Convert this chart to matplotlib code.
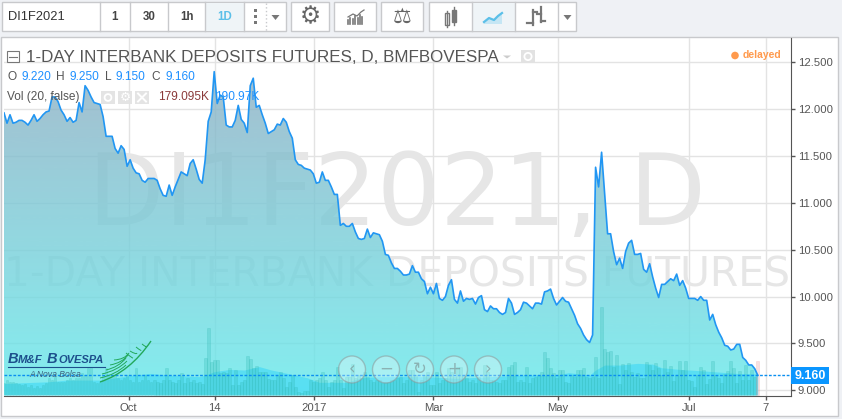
import numpy as np
import matplotlib
matplotlib.use("Agg")
import matplotlib.pyplot as plt
from matplotlib.patches import Rectangle, Circle, PathPatch
from matplotlib.path import Path

plt.rcParams["font.family"] = ["Liberation Sans", "DejaVu Sans"]

# daily closes
close = [
    11.96, 11.85, 11.94, 11.85, 11.86, 11.88, 11.88, 11.86, 11.83, 11.88,
    11.94, 11.87, 11.90, 11.94, 11.97, 11.98, 12.13, 12.13, 12.08, 11.99,
    11.94, 11.87, 11.91, 11.86, 11.88, 12.07, 11.97, 12.25, 12.20, 12.13,
    12.07, 12.06, 12.05, 11.92, 11.71, 11.71, 11.71, 11.58, 11.53, 11.61,
    11.57, 11.39, 11.46, 11.37, 11.32, 11.31, 11.24, 11.22, 11.26, 11.26,
    11.26, 11.24, 11.15, 11.08, 11.07, 11.19, 11.08, 11.17, 11.25, 11.33,
    11.31, 11.29, 11.42, 11.46, 11.36, 11.25, 11.21, 11.46, 11.87, 11.97,
    12.40, 12.06, 12.15, 12.13, 11.83, 11.81, 11.81, 11.88, 12.04, 11.89,
    11.85, 11.75, 12.25, 12.33, 12.02, 12.04, 11.94, 11.85, 11.74, 11.76,
    11.78, 11.84, 11.83, 11.90, 11.86, 11.76, 11.69, 11.46, 11.41, 11.40,
    11.37, 11.36, 11.35, 11.31, 11.21, 11.22, 11.33, 11.24, 11.24, 11.17,
    11.09, 11.09, 10.76, 10.78, 10.75, 10.75, 10.78, 10.69, 10.62, 10.61,
    10.62, 10.72, 10.63, 10.68, 10.67, 10.66, 10.59, 10.45, 10.44, 10.36,
    10.30, 10.30, 10.27, 10.23, 10.23, 10.24, 10.33, 10.26, 10.26, 10.19,
    10.16, 10.03, 10.10, 10.03, 10.14, 9.98, 9.96, 10.00, 10.12, 10.18,
    9.97, 9.93, 10.06, 9.95, 9.98, 9.97, 9.98, 9.92, 9.99, 10.01,
    9.86, 9.84, 9.90, 9.87, 9.87, 9.83, 9.81, 9.83, 9.98,
    9.93, 9.81, 9.83, 9.86, 9.94, 9.93, 9.90, 9.87, 9.93, 9.93,
    9.92, 10.05, 10.06, 10.08, 9.98, 9.91, 9.95, 9.99, 9.95, 9.94,
    9.87, 9.80, 9.71, 9.66, 9.59, 9.54, 9.51, 9.59, 11.38, 11.17,
    11.54, 11.10, 10.67, 10.67, 10.48, 10.34, 10.41, 10.30, 10.48, 10.57,
    10.60, 10.45, 10.45, 10.46, 10.29, 10.26, 10.35, 10.21, 10.09, 9.99,
    10.13, 10.13, 10.16, 10.19, 10.17, 10.24, 10.12, 10.17, 10.09, 9.98,
    9.98, 9.98, 9.96, 10.00, 9.96, 9.96, 9.75, 9.81, 9.70, 9.62,
    9.56, 9.48, 9.47, 9.43, 9.44, 9.49, 9.49, 9.35, 9.32, 9.27,
    9.27, 9.23, 9.16,
]

# daily volume in thousands
volume = [
    61, 79, 70, 67, 61, 56, 53, 56, 44, 53, 35, 49, 35, 53, 61, 88, 79, 97, 70, 70,
    70, 79, 88, 79, 88, 88, 114, 105, 141, 149, 70, 61, 70, 105, 141, 105, 105, 105, 88, 79,
    88, 105, 79, 70, 141, 70, 79, 105, 79, 70, 79, 70, 61, 79, 141, 79, 70, 61, 79, 118,
    61, 88, 70, 79, 61, 70,
    56, 193, 351, 172, 183, 183, 114, 123, 114, 141, 53, 132, 53, 70, 79, 207, 190, 141, 155, 123,
    119, 119, 84, 79, 79, 105, 123, 88, 44, 70, 105, 44, 18, 9, 21, 21, 79, 70, 79, 88,
    119, 79, 44, 70, 79, 149, 79, 35, 97, 97, 162, 88, 105, 88, 119, 97, 79, 70, 79, 79,
    61, 70, 70, 79,
    79, 88, 97, 61, 79, 132, 132, 105, 18, 79, 105, 123, 53, 53, 123, 61, 79, 88, 141, 123,
    97, 149, 149, 105, 88, 70, 79, 61, 97, 70, 158, 123, 79, 79, 70, 61, 79, 79, 149, 158,
    172, 70, 79, 70, 149, 61, 88, 97, 105, 123, 225, 193, 141, 114, 88, 132, 132, 70, 61, 105,
    97, 132, 132, 141, 97, 88, 97,
    199, 91, 462, 241, 228, 232, 149, 211, 58, 163, 132, 170, 123, 97, 114, 88, 88, 174, 158, 132, 167,
    141, 105, 184, 123, 153, 74, 105, 179, 132, 179, 79, 74, 40, 105, 146, 132, 58, 84, 179, 105,
    88, 61, 111, 127, 179, 141, 61, 127, 79, 156, 79, 132, 97, 179.095,
]

# 20 day volume average, read at a few bars
vol_ma_x = [0, 15, 21, 26, 32, 43, 49, 54, 65, 67, 70, 75, 80, 85, 89, 97, 101, 105, 108,
            114, 119, 125, 130, 140, 151, 162, 173, 184, 188, 195, 197, 200, 205, 211, 216, 219, 225, 233, 244, 251]
vol_ma = [61, 70, 79, 79, 79, 105, 114, 105, 97, 105, 123, 135, 132, 150, 132, 105, 91, 67, 67,
          67, 91, 97, 97, 97, 88, 97, 105, 105, 118, 105, 132, 158, 158, 167, 163, 144, 135, 127, 114, 111]

x_tick_pos = [41.46, 70.13, 103.3, 142.96, 184.5, 228.1, 253.6]
x_tick_labels = ["Oct", "14", "2017", "Mar", "May", "Jul", "7"]
y_ticks = [9.0, 9.5, 10.0, 10.5, 11.0, 11.5, 12.0, 12.5]

W, H = 842, 419
GREY = "#c8c9cc"


def px_axes(fig, left, top, right, bottom, z):
    a = fig.add_axes([left / W, 1 - bottom / H, (right - left) / W, (bottom - top) / H], zorder=z)
    return a


fig = plt.figure(figsize=(W / 100, H / 100), dpi=100, facecolor="#eff1f5")

# page level layer for panel and watermark
bg = fig.add_axes([0, 0, 1, 1], zorder=0)
bg.set_xlim(0, W)
bg.set_ylim(H, 0)
bg.axis("off")
bg.add_patch(Rectangle((1, 37.5), 837, 378, fc="white", ec=GREY, lw=1))

n = len(close)
step = 3.003
xlim = (-0.5 / step, (791 - 4) / step)
xs = np.arange(n)
vol_xs = np.arange(n - len(volume), n)

ax = px_axes(fig, 3.5, 38, 791, 396, 1)
ax.set_xlim(*xlim)
ax.set_ylim(8.939, 12.759)
ax.patch.set_alpha(0)
ax.grid(True, color="#e3e3e3", lw=1)
ax.set_axisbelow(True)
ax.yaxis.tick_right()
ax.set_yticks(y_ticks)
ax.set_yticklabels([f"{v:.3f}" for v in y_ticks])
ax.set_xticks(x_tick_pos)
ax.set_xticklabels(x_tick_labels)
ax.tick_params(axis="both", length=3, width=1, color="#555555", labelcolor="#555555", labelsize=8.1, pad=2)
ax.spines["top"].set_visible(False)
ax.spines["left"].set_visible(False)
ax.spines["right"].set_color("#555555")
ax.spines["bottom"].set_color("#555555")

# watermark sits under the area
ax.text(397, 197, "DI1F2021, D", transform=bg.transData, family="DejaVu Sans", fontsize=71.5, color="#e6e6e6",
        ha="center", va="center", zorder=1)
ax.text(397, 275, "1-DAY INTERBANK DEPOSITS FUTURES", transform=bg.transData, family="DejaVu Sans", fontsize=29.4,
        color="#e6e6e6", ha="center", va="center", zorder=1)

# gradient under the price line
grad = np.zeros((256, 1, 4))
grad[..., 0] = np.linspace(142, 100, 256)[:, None] / 255
grad[..., 1] = np.linspace(174, 234, 256)[:, None] / 255
grad[..., 2] = np.linspace(195, 236, 256)[:, None] / 255
grad[..., 3] = 0.8
im = ax.imshow(grad, extent=[xs[0], xs[-1], 8.95, 12.45], origin="upper", aspect="auto", zorder=2)
clip = PathPatch(Path(np.vstack([[xs[0], 8.95], np.column_stack([xs, close]), [xs[-1], 8.95]])),
                 transform=ax.transData, fc="none", ec="none")
ax.add_patch(clip)
im.set_clip_path(clip)
ax.set_xlim(*xlim)
ax.set_ylim(8.939, 12.759)

# volume and its average
ax_vol = px_axes(fig, 3.5, 38, 791, 396, 2)
ax_vol.set_xlim(*xlim)
ax_vol.set_ylim(-5, 1881)
ax_vol.axis("off")
ax_vol.fill_between(vol_ma_x, 0, vol_ma, color="#3fd8f6", alpha=0.62, lw=0)
bar_cols = ["#2cb6b0"] * (len(volume) - 1) + ["#e08a8a"]
ax_vol.bar(vol_xs, volume, width=0.9, color=bar_cols, edgecolor=bar_cols, lw=0.5, alpha=0.25)

# price line and last value marker
ax_top = px_axes(fig, 3.5, 38, 791, 396, 3)
ax_top.set_xlim(*xlim)
ax_top.set_ylim(8.939, 12.759)
ax_top.axis("off")
ax_top.plot(xs, close, color="#2196f3", lw=1.2, solid_joinstyle="round")
ax_top.axhline(close[-1], color="#0b8ff0", lw=1, ls=(0, (2, 1.2)))

# overlay in pixel coordinates
ov = fig.add_axes([0, 0, 1, 1], zorder=4)
ov.set_xlim(0, W)
ov.set_ylim(H, 0)
ov.axis("off")
ov.patch.set_alpha(0)

ov.add_patch(Rectangle((791, 367), 38, 17, fc="#0a96ff", ec="none"))
ov.text(810.5, 375.5, f"{close[-1]:.3f}", color="white", fontsize=9, fontweight="bold", ha="center", va="center")

# toolbar boxes
boxes = [(2, 284, "white"), (291, 38, "white"), (334, 42, "white"), (381, 42, "white"), (428.5, 147.5, "white")]
for bx, bw, c in boxes:
    ov.add_patch(Rectangle((bx, 2.5), bw, 28.5, fc=c, ec=GREY, lw=1))
ov.add_patch(Rectangle((205, 3), 39, 28, fc="#eff4f7", ec="none"))
ov.add_patch(Rectangle((471.5, 3), 43, 28, fc="#eff4f7", ec="none"))
for vx in [99.5, 130, 167.5, 205, 244]:
    ov.plot([vx, vx], [2.5, 31], color=GREY, lw=1)
for vx in [471.5, 514.5, 557.5]:
    ov.plot([vx, vx], [2.5, 31], color=GREY, lw=1)
ov.plot([265.5, 265.5], [3, 31], color=GREY, lw=1, ls=":")

ov.text(8, 17, "DI1F2021", color="#333333", fontsize=9.3, va="center")
for tx, lab, c in [(115, "1", "#444444"), (149, "30", "#444444"), (187, "1h", "#444444"), (225, "1D", "#5bbfe8")]:
    ov.text(tx, 16.5, lab, color=c, fontsize=8.3, fontweight="bold", ha="center", va="center")
for dy in [11, 17, 23]:
    ov.add_patch(Rectangle((253.5, dy - 1.5), 3, 3, fc="#777777", ec="none"))
for ax_x in [275.5, 567.5]:
    ov.fill([ax_x - 4, ax_x + 4, ax_x], [15, 15, 20], color="#777777", lw=0)
ov.text(310.5, 16, "\u2699", family="DejaVu Sans", color="#666666", fontsize=17, ha="center", va="center")
ov.text(402.5, 16.5, "\u2696", family="DejaVu Sans", color="#666666", fontsize=15, ha="center", va="center")
# bars icon
for i, bh in enumerate([4, 6, 5, 8, 6, 9, 7]):
    ov.plot([348 + i * 2.4] * 2, [24.5, 24.5 - bh], color="#777777", lw=1.2)
ov.plot([348, 353, 357, 361, 364], [17, 14, 16, 12, 10], color="#777777", lw=0.9)
# candles icon
ov.add_patch(Rectangle((444.5, 13), 4, 12, fc="white", ec="#777777", lw=1))
ov.plot([446.5, 446.5], [11, 27], color="#777777", lw=1)
ov.add_patch(Rectangle((451.5, 10), 4, 12, fc="#777777", ec="#777777", lw=1))
ov.plot([453.5, 453.5], [7, 25], color="#777777", lw=1)
# area icon
ov.fill([484, 489, 494, 498, 502, 502, 484], [22, 18, 20, 16, 13, 24, 24], color="#c5e6f4", lw=0)
ov.plot([484, 489, 494, 498, 502], [22, 18, 20, 16, 13], color="#5bbfe8", lw=1.6)
# bars type icon
ov.plot([533, 533], [10, 25], color="#777777", lw=1.6)
ov.plot([527, 533], [23, 23], color="#777777", lw=1.6)
ov.plot([533, 537], [12, 12], color="#777777", lw=1.6)
ov.plot([541, 541], [7, 22], color="#777777", lw=1.6)
ov.plot([537, 541], [14, 14], color="#777777", lw=1.6)
ov.plot([541, 545], [21, 21], color="#777777", lw=1.6)

# header
ov.add_patch(Rectangle((7, 51.5), 11.5, 10.5, fc="white", ec="#777777", lw=0.8))
ov.plot([9, 16.5], [57, 57], color="#777777", lw=0.8)
ov.text(26, 57, "1-DAY INTERBANK DEPOSITS FUTURES, D, BMFBOVESPA", color="#555555", fontsize=12.25, va="center")
ov.fill([503, 511, 507], [55.5, 55.5, 58.5], color="#cccccc", lw=0)
ov.add_patch(Rectangle((521, 50), 14, 13, fc="#e2e2e2", ec="none"))
ov.add_patch(Circle((528, 56.5), 3.6, fc="none", ec="white", lw=1.3))
ov.add_patch(Circle((735, 55.5), 3.8, fc="#ff9a4d", ec="none"))
ov.text(743, 55.5, "delayed", color="#ff9a4d", fontsize=7.5, fontweight="bold", va="center")

for tx, lab, c in [(7, "O", "#555555"), (21, "9.220", "#1e90ff"), (56, "H", "#555555"), (69, "9.250", "#1e90ff"),
                   (105, "L", "#555555"), (116, "9.150", "#1e90ff"), (151, "C", "#555555"), (165, "9.160", "#1e90ff")]:
    ov.text(tx, 77, lab, color=c, fontsize=8.6, va="center")
ov.text(7, 97, "Vol (20, false)", color="#555555", fontsize=8.6, va="center")
for bx in [101, 118, 135]:
    ov.add_patch(Rectangle((bx, 91), 14, 13, fc="#e2e2e2", ec="none", alpha=0.9))
ov.add_patch(Circle((108, 97.5), 3.4, fc="none", ec="white", lw=1.3))
ov.text(125, 97.5, "\u2699", family="DejaVu Sans", color="white", fontsize=9, ha="center", va="center")
ov.plot([138, 146], [93.5, 101.5], color="white", lw=1.4)
ov.plot([138, 146], [101.5, 93.5], color="white", lw=1.4)
ov.text(158, 97, "179.095K", color="#8b3a3a", fontsize=8.6, va="center")
ov.text(215, 97, "190.97K", color="#1e90ff", fontsize=8.6, va="center")

# zoom and scroll buttons
for cx, sym in zip([352, 386, 420, 454, 488], ["\u2039", "\u2212", "\u21bb", "+", "\u203a"]):
    ov.add_patch(Circle((cx, 369.5), 13.5, fc=(1, 1, 1, 0.3), ec=(0.55, 0.6, 0.6, 0.55), lw=1))
    ov.text(cx, 369, sym, family="DejaVu Sans", color=(0.45, 0.5, 0.5, 0.55), fontsize=12,
            ha="center", va="center")

# logo
for tx, lab, fs in [(7.5, "B", 10.5), (17.5, "M&F", 8.2), (47, "B", 10.5), (58.5, "OVESPA", 8.0)]:
    ov.text(tx, 362.5, lab, color="#1c4f8c", fontsize=fs, fontweight="bold", style="italic", va="baseline")
ov.plot([7.5, 105], [367, 367], color="#1c4f8c", lw=0.8)
ov.text(29, 374, "A Nova Bolsa", color="#3b5f7d", fontsize=6.2, style="italic", va="center")
stem = Path([(100, 382), (130, 372), (151, 341)], [Path.MOVETO, Path.CURVE3, Path.CURVE3])
ov.add_patch(PathPatch(stem, fc="none", ec="#22a85a", lw=1))
for sx, sy, ex, ey in [(100, 378, 126, 365), (102, 374, 127, 361), (106, 370, 126, 358), (110, 365, 128, 355),
                       (114, 360, 129, 353), (126, 353, 133, 358), (130, 351, 137, 353), (136, 347, 141, 350), (142, 344, 146, 346)]:
    barb = Path([(sx, sy), ((sx + ex) / 2 + 3, (sy + ey) / 2 + 3), (ex, ey)], [Path.MOVETO, Path.CURVE3, Path.CURVE3])
    ov.add_patch(PathPatch(barb, fc="none", ec="#22a85a", lw=0.7))

fig.savefig("out.png", dpi=100, facecolor=fig.get_facecolor())
